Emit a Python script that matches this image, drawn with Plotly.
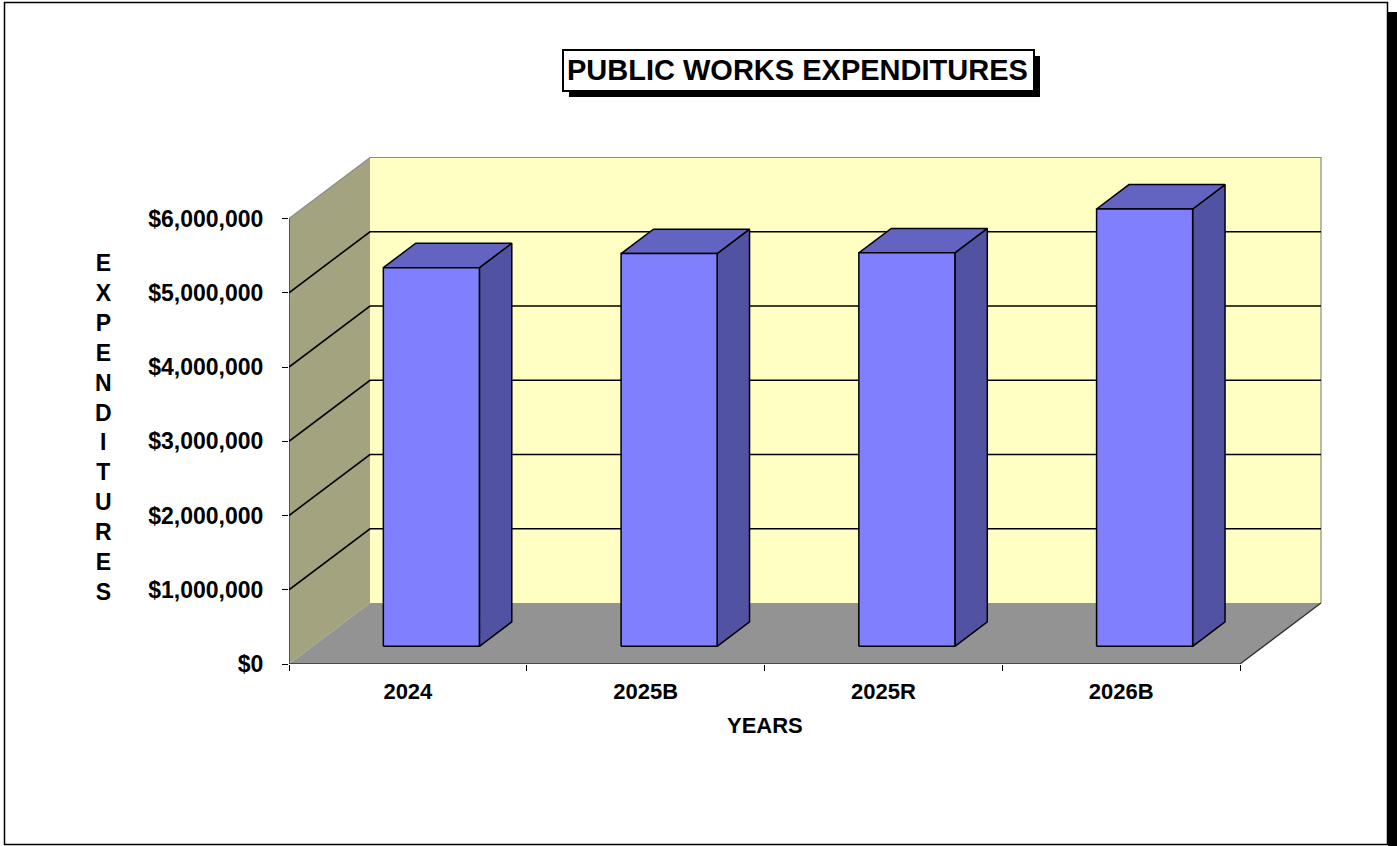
import plotly.graph_objects as go

# ---- data -------------------------------------------------------------
years = ["2024", "2025B", "2025R", "2026B"]
expenditures = [5_100_000, 5_290_000, 5_300_000, 5_890_000]
tick_values = [0, 1_000_000, 2_000_000, 3_000_000, 4_000_000, 5_000_000, 6_000_000]
tick_labels = ["$0", "$1,000,000", "$2,000,000", "$3,000,000",
               "$4,000,000", "$5,000,000", "$6,000,000"]

# ---- page geometry ----------------------------------------------------
W, H = 1397, 846
ML, MR, MT, MB = 289, 67, 150, 182
CAT_PX = 237.75            # pixels per category
USD_PX = 74.25 / 1e6       # pixels per dollar

x_lo = -0.5
x_hi = x_lo + (W - ML - MR) / CAT_PX
y_hi = (H - MT - MB) / USD_PX

# oblique projection of the depth axis (full depth of the box)
DX = 81 / CAT_PX
DY = 61 / USD_PX
BAR_W = 0.404
D0, D1 = 0.29, 0.69        # bar front / back depth fraction

FONT = "Liberation Sans, Arial, sans-serif"


def px_x(p):
    return (p - ML) / (W - ML - MR)


def px_y(p):
    return (H - MB - p) / (H - MT - MB)


def proj(pts):
    xs = [x + d * DX for x, y, d in pts]
    ys = [y + d * DY for x, y, d in pts]
    return xs, ys


def face(pts, fill, line_color="black", line_width=1.5):
    xs, ys = proj(pts)
    xs.append(xs[0])
    ys.append(ys[0])
    return go.Scatter(x=xs, y=ys, mode="lines", fill="toself", fillcolor=fill,
                      line=dict(color=line_color, width=line_width),
                      hoverinfo="skip", showlegend=False)


def path(segments, color, width, dash="solid"):
    xs, ys = [], []
    for seg in segments:
        sx, sy = proj(seg)
        xs += sx + [None]
        ys += sy + [None]
    return go.Scatter(x=xs, y=ys, mode="lines",
                      line=dict(color=color, width=width, dash=dash),
                      hoverinfo="skip", showlegend=False)


fig = go.Figure()

xl, xr = -0.5, len(years) - 0.5
top = tick_values[-1]

# walls and floor
fig.add_trace(face([(xl, 0, 0), (xl, 0, 1), (xl, top, 1), (xl, top, 0)],
                   "#A3A37F", line_width=0))
fig.add_trace(face([(xl, 0, 1), (xr, 0, 1), (xr, top, 1), (xl, top, 1)],
                   "#FFFFC4", line_width=0))
fig.add_trace(face([(xl, 0, 0), (xr, 0, 0), (xr, 0, 1), (xl, 0, 1)],
                   "#939393", line_width=0))

# wall edges
fig.add_trace(path([[(xl, top, 0), (xl, top, 1), (xr, top, 1), (xr, 0, 1)]],
                   "#8A8A8A", 1.2))
fig.add_trace(path([[(xl, top, 0), (xl, 0, 0), (xr, 0, 0), (xr, 0, 1)]],
                   "#303030", 1.3))

# gridlines across the side and back walls
fig.add_trace(path([[(xl, v, 0), (xl, v, 1), (xr, v, 1)] for v in tick_values[1:-1]],
                   "black", 1.6))

# 3D bars
for i, v in enumerate(expenditures):
    xa, xb = i - BAR_W / 2, i + BAR_W / 2
    fig.add_trace(face([(xb, 0, D0), (xb, 0, D1), (xb, v, D1), (xb, v, D0)], "#5252A3"))
    fig.add_trace(face([(xa, v, D0), (xb, v, D0), (xb, v, D1), (xa, v, D1)], "#6363C2"))
    fig.add_trace(face([(xa, 0, D0), (xb, 0, D0), (xb, v, D0), (xa, v, D0)], "#8080FF"))

shapes = [
    # chart frame with shadow
    dict(type="rect", xref="paper", yref="paper",
         x0=px_x(1388), x1=px_x(1398), y0=px_y(12), y1=px_y(847),
         fillcolor="black", line=dict(width=0)),
    dict(type="rect", xref="paper", yref="paper",
         x0=px_x(4.5), x1=px_x(1387.5), y0=px_y(2.5), y1=px_y(844.5),
         line=dict(color="black", width=1.5)),
    # title box with shadow
    dict(type="rect", xref="paper", yref="paper",
         x0=px_x(569), x1=px_x(1040), y0=px_y(56), y1=px_y(97),
         fillcolor="black", line=dict(width=0)),
    dict(type="rect", xref="paper", yref="paper",
         x0=px_x(563), x1=px_x(1034), y0=px_y(50), y1=px_y(91),
         fillcolor="white", line=dict(color="black", width=2)),
]

annotations = [
    dict(text="PUBLIC WORKS EXPENDITURES", xref="paper", yref="paper",
         x=px_x(797), y=px_y(70), xanchor="center", yanchor="middle",
         showarrow=False, font=dict(family=FONT, size=29, color="black", weight="bold")),
    dict(text="YEARS", xref="x", yref="paper", x=1.5, y=px_y(725),
         xanchor="center", yanchor="middle", showarrow=False,
         font=dict(family=FONT, size=22, color="black", weight="bold")),
    dict(text="<br>".join("EXPENDITURES"), xref="paper", yref="paper",
         x=px_x(103), y=px_y(427), xanchor="center", yanchor="middle",
         showarrow=False,
         font=dict(family=FONT, size=23, color="black", weight="bold")),
]

fig.update_layout(
    width=W, height=H,
    margin=dict(l=ML, r=MR, t=MT, b=MB, autoexpand=False),
    paper_bgcolor="white", plot_bgcolor="white",
    showlegend=False,
    shapes=shapes,
    annotations=annotations,
    xaxis=dict(range=[x_lo, x_hi], tickmode="array", tickvals=list(range(len(years))),
               ticktext=years, ticks="", showline=False, showgrid=False,
               zeroline=False, automargin=False, fixedrange=True,
               ticklabelstandoff=12,
               tickfont=dict(family=FONT, size=22, color="black", weight="bold"),
               minor=dict(ticks="outside", tick0=-0.5, dtick=1, ticklen=6,
                          tickcolor="black", tickwidth=1, showgrid=False)),
    yaxis=dict(range=[0, y_hi], tickmode="array", tickvals=tick_values,
               ticktext=tick_labels, ticks="outside", ticklen=6,
               tickcolor="black", tickwidth=1, showline=False, showgrid=False,
               zeroline=False, automargin=False, fixedrange=True,
               ticklabelstandoff=14,
               tickfont=dict(family=FONT, size=23, color="black", weight="bold")),
)

fig.write_html("out.html", config={"displayModeBar": False})
